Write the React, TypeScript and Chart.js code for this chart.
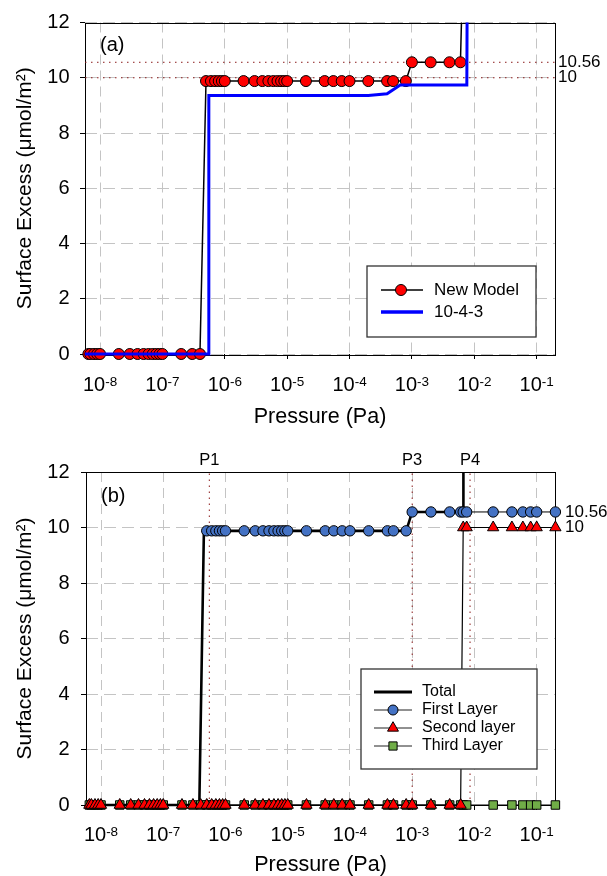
import React, { useEffect, useRef } from 'react';
import { Chart, registerables } from 'chart.js';

Chart.register(...registerables);

const FONT = "'Liberation Sans', Arial, Helvetica, sans-serif";

// ---------- shared axis values ----------
const X_MIN = 5.74e-9;
const X_MAX = 0.197;
const decadeTicks = [1e-8, 1e-7, 1e-6, 1e-5, 1e-4, 1e-3, 1e-2, 1e-1];
const rightTicks = [10, 10.56];
const yTitle = 'Surface Excess (\u03bcmol/m\u00b2)';
const xTitle = 'Pressure (Pa)';

// ---------- panel (a) ----------
const pressureA = [
  6.5e-9, 7e-9, 8e-9, 9e-9, 1e-8, 2e-8, 3e-8, 4e-8, 5e-8, 6e-8, 7e-8, 8e-8, 9e-8, 1e-7, 2e-7, 3e-7, 4e-7,
  5e-7, 6e-7, 7e-7, 8e-7, 9e-7, 1e-6, 2e-6, 3e-6, 4e-6, 5e-6, 6e-6, 7e-6, 8e-6, 9e-6, 1e-5,
  2e-5, 4e-5, 5.5e-5, 7.5e-5, 1e-4, 2e-4, 4e-4, 5e-4, 8e-4,
  1e-3, 2e-3, 4e-3, 6e-3, 6.4e-3,
];
const newModel = [
  0, 0, 0, 0, 0, 0, 0, 0, 0, 0, 0, 0, 0, 0, 0, 0, 0,
  9.88, 9.88, 9.88, 9.88, 9.88, 9.88, 9.88, 9.88, 9.88, 9.88, 9.88, 9.88, 9.88, 9.88, 9.88,
  9.88, 9.88, 9.88, 9.88, 9.88, 9.88, 9.88, 9.88, 9.88,
  10.56, 10.56, 10.56, 10.56, 13,
];
const model1043P = [5.74e-9, 5.5e-7, 5.55e-7, 2e-4, 4e-4, 6.5e-4, 7.6e-3, 7.7e-3];
const model1043Q = [0, 0, 9.36, 9.36, 9.42, 9.74, 9.74, 13];
const refLevelsA = [10, 10.56];
const legendA = ['New Model', '10-4-3'];

// ---------- panel (b) ----------
const pressureB = [
  6.5e-9, 7e-9, 8e-9, 9e-9, 1e-8, 2e-8, 3e-8, 4e-8, 5e-8, 6e-8, 7e-8, 8e-8, 9e-8, 1e-7, 2e-7, 3e-7, 4e-7,
  5e-7, 6e-7, 7e-7, 8e-7, 9e-7, 1e-6, 2e-6, 3e-6, 4e-6, 5e-6, 6e-6, 7e-6, 8e-6, 9e-6, 1e-5,
  2e-5, 4e-5, 5.5e-5, 7.5e-5, 1e-4, 2e-4, 4e-4, 5e-4, 8e-4,
  1e-3, 2e-3, 4e-3, 6e-3,
  6.6e-3, 7.5e-3, 2e-2, 4e-2, 6e-2, 8e-2, 0.1, 0.2,
];
const firstLayer = [
  null, null, null, null, null, null, null, null, null, null, null, null, null, null, null, null, null,
  9.88, 9.88, 9.88, 9.88, 9.88, 9.88, 9.88, 9.88, 9.88, 9.88, 9.88, 9.88, 9.88, 9.88, 9.88,
  9.88, 9.88, 9.88, 9.88, 9.88, 9.88, 9.88, 9.88, 9.88,
  10.56, 10.56, 10.56, 10.56,
  10.56, 10.56, 10.56, 10.56, 10.56, 10.56, 10.56, 10.56,
];
const secondLayer = [
  0, 0, 0, 0, 0, 0, 0, 0, 0, 0, 0, 0, 0, 0, 0, 0, 0,
  0, 0, 0, 0, 0, 0, 0, 0, 0, 0, 0, 0, 0, 0, 0,
  0, 0, 0, 0, 0, 0, 0, 0, 0,
  0, 0, 0, 0,
  10, 10, 10, 10, 10, 10, 10, 10,
];
const thirdLayer = [
  0, 0, 0, 0, 0, 0, 0, 0, 0, 0, 0, 0, 0, 0, 0, 0, 0,
  0, 0, 0, 0, 0, 0, 0, 0, 0, 0, 0, 0, 0, 0, 0,
  0, 0, 0, 0, 0, 0, 0, 0, 0,
  0, 0, 0, 0,
  0, 0, 0, 0, 0, 0, 0, 0,
];
const totalP = [6.5e-9, 3.8e-7, 4.5e-7, 8e-4, 1e-3, 6e-3, 6.6e-3, 6.65e-3];
const totalQ = [0, 0, 9.88, 9.88, 10.56, 10.56, 10.56, 13];
const pNames = ['P1', 'P3', 'P4'];
const pPressures = [5.5e-7, 1e-3, 8.5e-3];
const legendB = ['Total', 'First Layer', 'Second layer', 'Third Layer'];

// ---------- helpers ----------
const GRID = '#c4c4c4';
const DOT = '#8b1a1a';
const CLIP = { left: false, right: false, bottom: false, top: 0 } as any;

const pts = (xs: number[], ys: (number | null)[]) => xs.map((x, i) => ({ x, y: ys[i] }));

function drawMarker(ctx: CanvasRenderingContext2D, shape: string, x: number, y: number, r: number, fill: string) {
  ctx.beginPath();
  if (shape === 'circle') ctx.arc(x, y, r, 0, Math.PI * 2);
  else if (shape === 'triangle') {
    ctx.moveTo(x, y - r);
    ctx.lineTo(x + r * 0.866, y + r / 2);
    ctx.lineTo(x - r * 0.866, y + r / 2);
    ctx.closePath();
  } else {
    const s = r * Math.SQRT1_2;
    ctx.rect(x - s, y - s, 2 * s, 2 * s);
  }
  ctx.fillStyle = fill;
  ctx.fill();
  ctx.strokeStyle = '#000';
  ctx.lineWidth = 1;
  ctx.stroke();
}

const decorPlugin = {
  id: 'decor',
  beforeDatasetsDraw(chart: any) {
    const { ctx, chartArea: a } = chart;
    ctx.save();
    ctx.strokeStyle = '#000';
    ctx.lineWidth = 1;
    ctx.setLineDash([]);
    ctx.strokeRect(Math.round(a.left) + 0.5, Math.round(a.top) + 0.5, Math.round(a.right - a.left), Math.round(a.bottom - a.top));
    ctx.restore();
  },
  afterDatasetsDraw(chart: any, _args: any, opts: any) {
    const { ctx, scales, chartArea } = chart;
    ctx.save();
    // decade tick labels with raised exponents
    if (opts.decadeLabelOffset) {
      const yc = chartArea.bottom + opts.decadeLabelOffset;
      ctx.fillStyle = '#000';
      ctx.textBaseline = 'middle';
      ctx.textAlign = 'left';
      decadeTicks.forEach((v) => {
        const exp = String(Math.round(Math.log10(v)));
        ctx.font = `20px ${FONT}`;
        const wBase = ctx.measureText('10').width;
        ctx.font = `13.5px ${FONT}`;
        const wExp = ctx.measureText(exp).width;
        const x0 = scales.x.getPixelForValue(v) - (wBase + wExp) / 2;
        ctx.font = `20px ${FONT}`;
        ctx.fillText('10', x0, yc);
        ctx.font = `13.5px ${FONT}`;
        ctx.fillText(exp, x0 + wBase, yc - 3.5);
      });
    }
    // panel tag
    if (opts.tag) {
      ctx.fillStyle = '#000';
      ctx.font = `20px ${FONT}`;
      ctx.textAlign = 'left';
      ctx.textBaseline = 'middle';
      ctx.fillText(opts.tag.text, scales.x.getPixelForValue(opts.tag.x), scales.y.getPixelForValue(opts.tag.y));
    }
    // legend
    const lg = opts.legend;
    if (lg) {
      const [x1, y1, x2, y2] = lg.box;
      ctx.fillStyle = '#fff';
      ctx.fillRect(x1, y1, x2 - x1, y2 - y1);
      ctx.strokeStyle = '#333';
      ctx.lineWidth = 1.3;
      ctx.strokeRect(x1, y1, x2 - x1, y2 - y1);
      lg.rows.forEach((row: any, i: number) => {
        const y = lg.rowY[i];
        ctx.beginPath();
        ctx.strokeStyle = row.lineColor;
        ctx.lineWidth = row.lineWidth;
        ctx.moveTo(lg.lineX[0], y);
        ctx.lineTo(lg.lineX[1], y);
        ctx.stroke();
        if (row.shape) drawMarker(ctx, row.shape, lg.markerX, y, row.r, row.fill);
        ctx.fillStyle = '#000';
        ctx.font = `${lg.fontSize}px ${FONT}`;
        ctx.textAlign = 'left';
        ctx.textBaseline = 'middle';
        ctx.fillText(row.label, lg.textX, y);
      });
    }
    ctx.restore();
  },
};

function xBottom(height: number, titlePad: number) {
  return {
    type: 'logarithmic',
    position: 'bottom',
    min: X_MIN,
    max: X_MAX,
    bounds: 'data',
    afterBuildTicks: (s: any) => { s.ticks = decadeTicks.map((v) => ({ value: v })); },
    afterFit: (s: any) => { s.height = height; },
    ticks: {
      autoSkip: false, maxRotation: 0, minRotation: 0, padding: 14, color: '#000',
      font: { size: 20, family: FONT },
      callback: () => '',
    },
    grid: { color: GRID, lineWidth: 1, tickLength: 5, tickColor: '#000', tickWidth: 1, tickBorderDash: [], drawTicks: true },
    border: { display: false, dash: [10, 6] },
    title: {
      display: true, text: xTitle, color: '#000',
      font: { size: 21.5, family: FONT, lineHeight: 1 },
      padding: { top: 0, bottom: titlePad },
    },
  };
}

function yLeft(width: number, tickPad: number) {
  return {
    type: 'linear',
    position: 'left',
    min: 0,
    max: 12,
    afterFit: (s: any) => { s.width = width; },
    ticks: { stepSize: 2, padding: tickPad, color: '#000', font: { size: 20, family: FONT } },
    grid: { color: GRID, lineWidth: 1, tickLength: 5, tickColor: '#000', tickWidth: 1, tickBorderDash: [], drawTicks: true },
    border: { display: false, dash: [12, 6] },
    title: {
      display: true, text: yTitle, color: '#000',
      font: { size: 21, family: FONT, lineHeight: 1.2 },
      padding: { top: 12.4, bottom: 0 },
    },
  };
}

function yRight(pad: number) {
  return {
    type: 'linear',
    position: 'right',
    min: 0,
    max: 12,
    afterBuildTicks: (s: any) => { s.ticks = rightTicks.map((v) => ({ value: v })); },
    afterFit: (s: any) => { s.width = 52; },
    ticks: { padding: pad, color: '#000', font: { size: 17, family: FONT }, callback: (v: any) => String(v) },
    grid: { drawOnChartArea: false, drawTicks: false },
    border: { display: false },
  };
}

function configA() {
  return {
    type: 'scatter',
    data: {
      datasets: [
        {
          label: legendA[1], data: pts(model1043P, model1043Q), showLine: true,
          borderColor: '#0000ff', borderWidth: 3, pointRadius: 0, order: 0, clip: CLIP,
        },
        {
          label: legendA[0], data: pts(pressureA, newModel), showLine: true,
          borderColor: '#000', borderWidth: 1.5,
          pointRadius: (c: any) => (c.raw && c.raw.y > 12 ? 0 : 5.5),
          pointBackgroundColor: '#ff0000', pointBorderColor: '#000', pointBorderWidth: 1,
          order: 1, clip: CLIP,
        },
        ...refLevelsA.map((v) => ({
          label: '', data: [{ x: X_MIN, y: v }, { x: X_MAX, y: v }], showLine: true,
          borderColor: DOT, borderWidth: 1, borderDash: [1.5, 4.5], pointRadius: 0, order: 5,
        })),
      ],
    },
    options: {
      responsive: false,
      animation: false,
      devicePixelRatio: 1,
      events: [],
      layout: { padding: { top: 22, left: 0, right: 0, bottom: 0 } },
      scales: {
        x: xBottom(84, 10.25),
        y: yLeft(85, 10.5),
        yR: yRight(3),
      },
      plugins: {
        legend: { display: false },
        tooltip: { enabled: false },
        decor: {
          decadeLabelOffset: 31.3,
          tag: { text: '(a)', x: 1e-8, y: 11.17 },
          legend: {
            box: [367, 266, 536, 337], rowY: [290, 312], lineX: [381, 423], markerX: 401, textX: 434, fontSize: 17,
            rows: [
              { label: legendA[0], lineColor: '#000', lineWidth: 1.5, shape: 'circle', r: 5.5, fill: '#ff0000' },
              { label: legendA[1], lineColor: '#0000ff', lineWidth: 3.5 },
            ],
          },
        },
      },
    },
    plugins: [decorPlugin],
  };
}

function configB() {
  return {
    type: 'scatter',
    data: {
      datasets: [
        {
          label: legendB[1], data: pts(pressureB, firstLayer), showLine: true,
          borderColor: '#000', borderWidth: 1, pointRadius: 5.2, pointStyle: 'circle',
          pointBackgroundColor: '#4472c4', pointBorderColor: '#000', pointBorderWidth: 1, order: 1, clip: CLIP,
        },
        {
          label: legendB[2], data: pts(pressureB, secondLayer), showLine: true,
          borderColor: '#000', borderWidth: 1.2, pointRadius: 6.5, pointStyle: 'triangle',
          pointBackgroundColor: '#ff0000', pointBorderColor: '#000', pointBorderWidth: 1, order: 2, clip: CLIP,
        },
        {
          label: legendB[3], data: pts(pressureB, thirdLayer), showLine: true,
          borderColor: '#000', borderWidth: 1, pointRadius: 6, pointStyle: 'rect',
          pointBackgroundColor: '#70ad47', pointBorderColor: '#000', pointBorderWidth: 1, order: 3, clip: CLIP,
        },
        {
          label: legendB[0], data: pts(totalP, totalQ), showLine: true,
          borderColor: '#000', borderWidth: 2.6, pointRadius: 0, order: 4, clip: CLIP,
        },
        ...pPressures.map((p) => ({
          label: '', data: [{ x: p, y: 0 }, { x: p, y: 12 }], showLine: true,
          borderColor: DOT, borderWidth: 1, borderDash: [1.5, 4.5], pointRadius: 0, order: 6,
        })),
      ],
    },
    options: {
      responsive: false,
      animation: false,
      devicePixelRatio: 1,
      events: [],
      layout: { padding: { top: 0, left: 0, right: 0, bottom: 0 } },
      scales: {
        x: xBottom(71, 0),
        x2: {
          type: 'logarithmic',
          position: 'top',
          min: X_MIN,
          max: X_MAX,
          bounds: 'data',
          afterBuildTicks: (s: any) => { s.ticks = pPressures.map((v) => ({ value: v })); },
          afterFit: (s: any) => { s.height = 34; },
          ticks: {
            autoSkip: false, maxRotation: 0, minRotation: 0, padding: 2, color: '#000',
            font: { size: 16.5, family: FONT },
            callback: (_v: any, i: number) => pNames[i],
          },
          grid: { drawOnChartArea: false, drawTicks: false },
          border: { display: false },
        },
        y: yLeft(86, 11.5),
        yR: yRight(10),
      },
      plugins: {
        legend: { display: false },
        tooltip: { enabled: false },
        decor: {
          decadeLabelOffset: 30.3,
          tag: { text: '(b)', x: 1e-8, y: 11.12 },
          legend: {
            box: [361, 231, 537, 331], rowY: [254, 272, 290, 308], lineX: [374, 412], markerX: 393, textX: 422, fontSize: 16,
            rows: [
              { label: legendB[0], lineColor: '#000', lineWidth: 3 },
              { label: legendB[1], lineColor: '#222', lineWidth: 1, shape: 'circle', r: 5, fill: '#4472c4' },
              { label: legendB[2], lineColor: '#222', lineWidth: 1, shape: 'triangle', r: 6.3, fill: '#ff0000' },
              { label: legendB[3], lineColor: '#222', lineWidth: 1, shape: 'rect', r: 5.8, fill: '#70ad47' },
            ],
          },
        },
      },
    },
    plugins: [decorPlugin],
  };
}

function ChartCanvas({ make, top }: { make: () => any; top: number }) {
  const ref = useRef<HTMLCanvasElement>(null);
  useEffect(() => {
    if (!ref.current) return;
    const chart = new Chart(ref.current, make());
    return () => chart.destroy();
  }, []);
  return (
    <canvas
      ref={ref}
      width={607}
      height={438}
      style={{ position: 'absolute', left: 0, top, width: 607, height: 438, display: 'block' }}
    />
  );
}

export default function App() {
  return (
    <div style={{ position: 'absolute', left: 0, top: 0, width: 607, height: 876, background: '#fff', overflow: 'hidden' }}>
      <ChartCanvas make={configA} top={0} />
      <ChartCanvas make={configB} top={438} />
    </div>
  );
}
